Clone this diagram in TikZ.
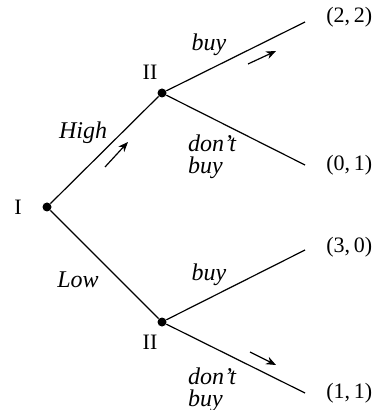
\documentclass[tikz,border=0pt]{standalone}
\usepackage{fontspec}
\setmainfont{Liberation Serif}
\usetikzlibrary{arrows.meta}

\tikzset{
    dot/.style={circle, fill, inner sep=0pt, minimum size=4.5pt},
    branch/.style={line width=0.6pt},
    move/.style={line width=0.6pt, -{Stealth[length=5pt, width=4pt]}},
    act/.style={font=\itshape\fontsize{12}{11}\selectfont, align=left, inner sep=0pt},
    pay/.style={font=\fontsize{11}{11}\selectfont, anchor=west, inner sep=0pt},
    who/.style={font=\fontsize{11}{11}\selectfont, inner sep=0pt}
}

\begin{document}
\begin{tikzpicture}[x=0.5pt, y=-0.5pt]
    \useasboundingbox (0,0) rectangle (379,410);
    \pgfmathsetmacro{\xl}{305}
    \pgfmathsetmacro{\xp}{326}
    % decision nodes
    \node[dot] (root) at (47,207) {};
    \node[dot] (up) at (162,93) {};
    \node[dot] (down) at (162,322) {};
    \node[who] at (18,207) {I};
    \node[who] at (150,72) {II};
    \node[who] at (150,342) {II};
    % end points
    \coordinate (bb) at (\xl,22);
    \coordinate (bn) at (\xl,165);
    \coordinate (lb) at (\xl,250);
    \coordinate (ln) at (\xl,393);
    \draw[branch] (root) -- (up);
    \draw[branch] (root) -- (down);
    \draw[branch] (up) -- (bb);
    \draw[branch] (up) -- (bn);
    \draw[branch] (down) -- (lb);
    \draw[branch] (down) -- (ln);
    % payoffs
    \node[pay] (p1) at (\xp,17) {(2,\,2)};
    \node[pay] (p2) at (\xp,165) {(0,\,1)};
    \node[pay] (p3) at (\xp,247) {(3,\,0)};
    \node[pay] (p4) at (\xp,393) {(1,\,1)};
    % actions
    \node[act] at (83,133) {High};
    \node[act] at (78,280) {Low};
    \node[act] at (209,45) {buy};
    \node[act] at (212,157) {don't\\buy};
    \node[act] at (209,275) {buy};
    \node[act] at (212,390) {don't\\buy};
    % chosen moves
    \coordinate (m1a) at (105,167);
    \coordinate (m1b) at (128,142);
    \coordinate (m2a) at (248,64);
    \coordinate (m2b) at (276,51);
    \coordinate (m3a) at (250,352);
    \coordinate (m3b) at (276,365);
    \draw[move] (m1a) -- (m1b);
    \draw[move] (m2a) -- (m2b);
    \draw[move] (m3a) -- (m3b);
\end{tikzpicture}
\end{document}
